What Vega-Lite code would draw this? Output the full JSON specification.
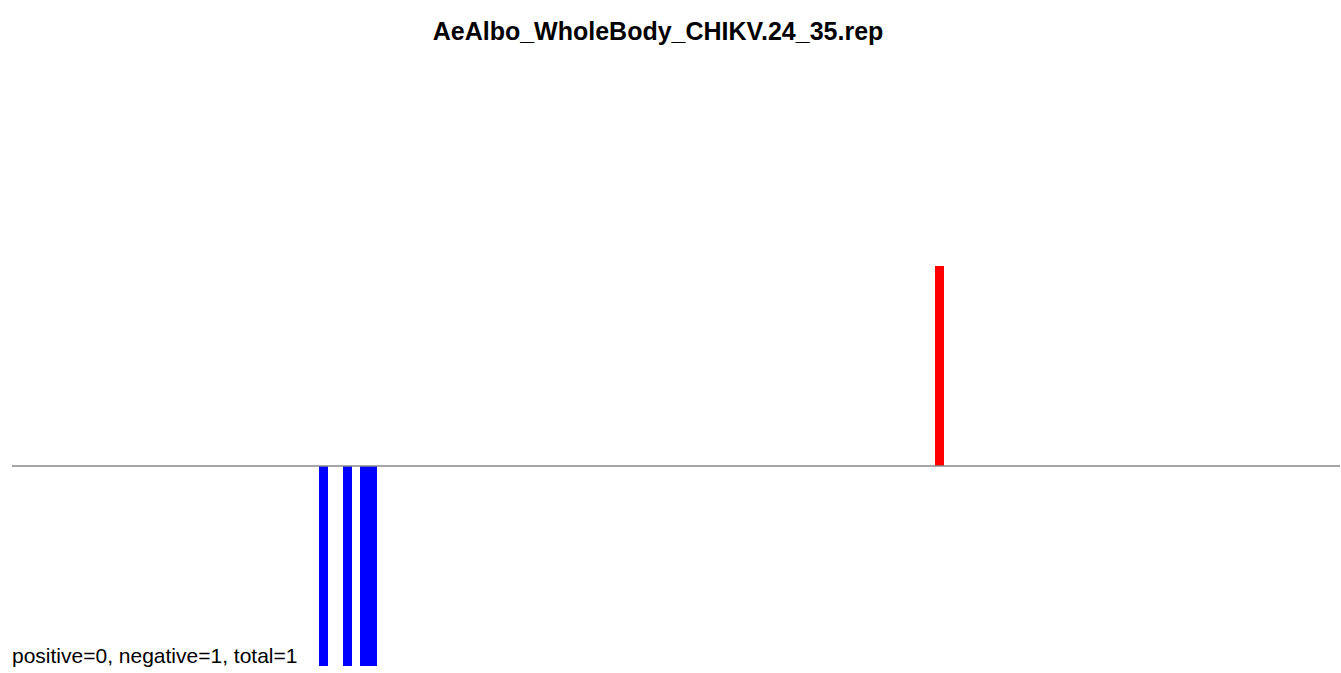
{
  "$schema": "https://vega.github.io/schema/vega-lite/v6.json",
  "autosize": "none",
  "width": 1328,
  "height": 600,
  "padding": {"left": 12, "top": 66, "right": 1, "bottom": 7},
  "background": "white",
  "title": {
    "text": "AeAlbo_WholeBody_CHIKV.24_35.rep",
    "font": "Liberation Sans",
    "fontSize": 25,
    "fontWeight": "bold",
    "color": "black",
    "anchor": "middle",
    "offset": 21,
    "dx": -18
  },
  "config": {"view": {"stroke": null}},
  "layer": [
    {
      "data": {"values": [
        {"start": 307, "end": 316, "value": -1, "sign": "negative"},
        {"start": 331, "end": 340, "value": -1, "sign": "negative"},
        {"start": 348, "end": 365, "value": -1, "sign": "negative"},
        {"start": 923, "end": 932, "value": 1, "sign": "positive"}
      ]},
      "mark": {"type": "rect"},
      "encoding": {
        "x": {"field": "start", "type": "quantitative", "scale": {"domain": [0, 1328], "nice": false, "zero": false}, "axis": null},
        "x2": {"field": "end"},
        "y": {"field": "value", "type": "quantitative", "scale": {"domain": [-1, 2], "nice": false}, "axis": null},
        "y2": {"datum": 0},
        "color": {"field": "sign", "type": "nominal", "scale": {"domain": ["positive", "negative"], "range": ["#FF0000", "#0000FF"]}, "legend": null}
      }
    },
    {
      "data": {"values": [{"y": 0}]},
      "mark": {"type": "rule", "color": "#888888", "strokeWidth": 1.3},
      "encoding": {
        "y": {"field": "y", "type": "quantitative"}
      }
    },
    {
      "data": {"values": [{"x": 0, "y": -1, "label": "positive=0, negative=1, total=1"}]},
      "mark": {"type": "text", "align": "left", "baseline": "alphabetic", "dy": -3, "font": "Liberation Sans", "fontSize": 21, "color": "black"},
      "encoding": {
        "x": {"field": "x", "type": "quantitative"},
        "y": {"field": "y", "type": "quantitative"},
        "text": {"field": "label"}
      }
    }
  ]
}
